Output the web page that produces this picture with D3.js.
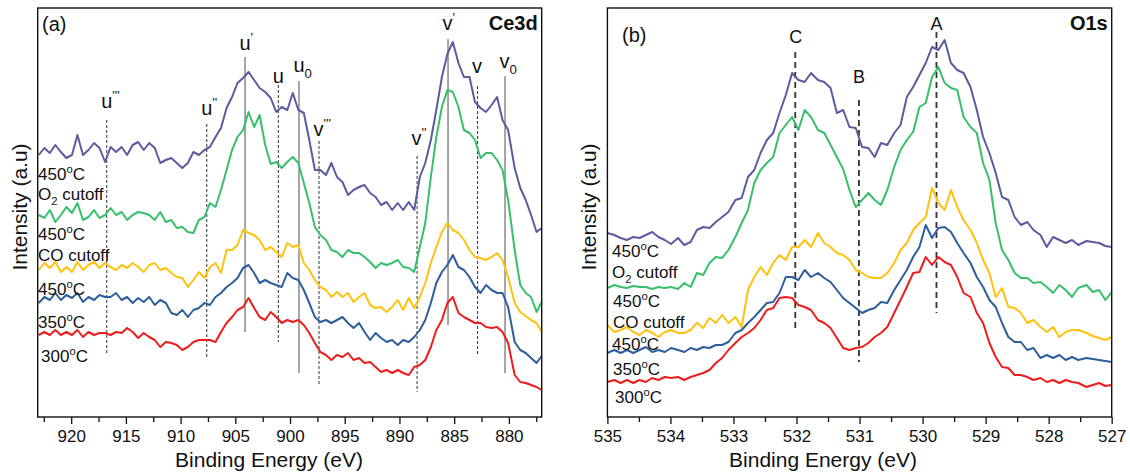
<!DOCTYPE html>
<html>
<head>
<meta charset="utf-8">
<script src="https://cdn.jsdelivr.net/npm/d3@7/dist/d3.min.js"></script>
<style>
  body { margin: 0; background: #fff; }
  text { font-family: "Liberation Sans", Arial, sans-serif; fill: #111; }
</style>
</head>
<body>
<svg id="chart"></svg>
<script>
// ---------------- data ----------------
// (a) Ce 3d region, binding energy in eV
const ceEnergy = [
  922.96,922.45,921.95,921.45,920.94,920.44,919.93,919.43,918.92,918.42,
  917.91,917.41,916.90,916.40,915.90,915.39,914.89,914.38,913.88,913.37,
  912.87,912.36,911.86,911.35,910.85,910.35,909.84,909.34,908.83,908.33,
  907.82,907.32,906.81,906.31,905.80,905.30,904.80,904.29,903.79,903.28,
  902.78,902.27,901.77,901.26,900.76,900.25,899.75,899.24,898.74,898.24,
  897.73,897.23,896.72,896.22,895.71,895.21,894.70,894.20,893.69,893.19,
  892.68,892.18,891.68,891.17,890.67,890.16,889.66,889.15,888.65,888.14,
  887.64,887.13,886.63,886.12,885.62,885.12,884.61,884.11,883.60,883.10,
  882.59,882.09,881.58,881.08,880.58,880.07,879.47,878.96,878.46,
  877.97,877.47,877.0
];
const ceO2Cutoff = [
  265,272,267,275,268,262,265,285,265,270,
  277,272,258,273,268,273,265,275,278,270,
  277,272,257,260,262,257,252,257,268,265,
  270,273,283,292,312,323,337,342,348,340,
  332,328,322,308,313,310,327,310,307,280,
  250,250,245,257,243,238,225,230,233,235,
  227,223,215,218,210,217,210,218,210,243,
  257,280,310,343,366,378,357,343,343,318,
  312,308,315,323,300,290,252,232,220,
  205,188,192
];
const ceCOCutoff = [
  205,202,210,198,205,213,207,217,200,203,
  210,202,205,212,205,208,200,205,208,207,
  205,200,208,198,200,192,193,188,187,200,
  203,217,213,230,250,270,283,290,308,293,
  305,275,256,258,252,258,263,257,237,217,
  193,185,180,170,168,163,170,167,167,163,
  158,152,157,155,157,160,153,152,148,173,
  197,243,283,313,330,328,313,290,287,280,
  262,267,267,260,250,220,170,135,127,
  123,108,118
];
const ce450 = [
  150,157,152,158,148,153,148,158,150,155,
  158,152,157,153,150,155,152,157,153,148,
  155,157,150,152,147,143,142,133,140,148,
  142,153,157,147,170,170,175,190,187,185,
  180,170,173,168,163,177,173,175,157,150,
  140,133,130,123,128,123,127,118,123,127,
  115,112,113,108,113,120,110,122,112,123,
  137,157,173,188,197,190,187,180,170,163,
  162,160,163,167,160,143,117,108,104,
  100,97,88
];
const ce350 = [
  117,123,120,127,120,125,122,127,118,123,
  120,125,123,123,127,120,123,117,122,118,
  123,115,120,117,107,105,110,103,110,112,
  117,115,123,127,133,137,142,152,155,147,
  137,140,137,135,133,147,142,140,130,117,
  103,98,100,97,100,103,97,92,97,88,
  80,87,82,78,80,75,80,78,83,90,
  100,117,137,148,155,165,153,150,143,133,
  127,135,130,127,127,113,78,70,67,
  62,57,64
];
const ce300 = [
  85,88,85,90,85,88,85,90,83,88,
  85,87,87,85,88,87,92,88,82,87,
  83,80,73,78,77,75,70,73,78,80,
  80,80,78,88,97,103,110,113,122,112,
  103,100,108,103,97,100,98,100,95,87,
  77,68,65,60,65,63,67,60,62,57,
  58,53,48,50,47,50,47,45,53,55,
  60,73,90,100,117,123,107,103,100,97,
  97,93,92,93,88,77,45,38,37,
  35,33,30
];

// (b) O 1s region
const oEnergy = [
  535.00,534.89,534.79,534.69,534.59,534.49,534.39,534.29,534.19,534.09,
  533.99,533.88,533.78,533.68,533.58,533.48,533.38,533.28,533.18,533.08,
  532.97,532.87,532.77,532.67,532.57,532.47,532.37,532.27,532.17,532.07,
  531.97,531.87,531.77,531.66,531.56,531.46,531.36,531.26,531.16,531.06,
  530.96,530.86,530.76,530.66,530.56,530.45,530.35,530.25,530.15,530.05,
  529.95,529.85,529.75,529.65,529.55,529.45,529.35,529.24,529.14,529.04,
  528.94,528.84,528.74,528.64,528.54,528.44,528.34,528.24,528.13,528.03,
  527.93,527.83,527.73,527.63,527.53,527.40,527.30,527.20,527.10,527.00
];
const oO2Cutoff = [
  187,185,182,180,183,182,185,188,183,180,
  176,182,175,178,190,193,192,198,203,208,
  220,222,243,250,267,280,287,307,325,347,
  340,338,347,340,338,332,307,310,293,292,
  273,272,263,277,275,287,295,323,333,345,
  357,373,370,380,357,350,347,333,310,283,
  267,247,223,220,203,195,198,190,185,173,
  183,180,177,180,175,179,178,177,174,
  173
];
const oCOCutoff = [
  132,135,133,132,134,133,133,131,133,132,
  133,131,137,133,147,145,157,163,162,170,
  183,197,210,237,250,257,263,287,295,303,
  290,310,303,290,287,275,263,251,230,213,
  220,227,220,215,230,253,270,280,288,313,
  317,343,353,337,332,330,303,293,287,257,
  240,197,170,160,147,142,142,137,138,133,
  127,135,130,123,132,135,128,130,120,
  128
];
const o450 = [
  95,88,90,93,88,85,90,87,83,88,
  90,87,87,90,97,92,102,97,105,97,
  103,93,130,143,153,145,157,165,160,173,
  173,180,173,187,177,173,167,165,160,150,
  147,143,142,142,147,157,170,177,190,197,
  203,232,217,210,230,213,200,190,177,160,
  147,123,132,113,112,107,97,100,93,88,
  93,83,88,90,90,87,84,82,80,
  83
];
const o350 = [
  67,70,67,70,67,70,73,68,70,68,
  72,70,68,72,70,73,72,75,75,78,
  87,90,97,103,110,117,118,127,143,143,
  140,150,143,147,142,138,130,122,117,112,
  107,110,112,118,117,130,140,150,163,173,
  195,182,192,193,188,177,167,157,143,133,
  120,113,97,83,78,78,70,72,62,65,
  62,65,60,63,60,62,61,60,59,
  58
];
const o300 = [
  38,40,37,40,37,40,38,42,40,43,
  42,43,40,43,45,47,50,57,62,70,
  77,83,87,92,100,110,112,122,123,122,
  115,113,110,100,97,92,82,72,70,72,
  73,77,83,87,93,107,120,133,147,148,
  163,155,163,158,155,143,127,123,107,97,
  77,63,53,52,45,45,43,40,42,38,
  40,37,40,38,37,33,35,37,34,
  35
];

// labels ({} = superscript, [] = subscript)
const seriesLabels = [
  ["450{o}C", "O[2] cutoff"],
  ["450{o}C", "CO cutoff"],
  ["450{o}C"],
  ["350{o}C"],
  ["300{o}C"]
];
const ceTicks = [920, 915, 910, 905, 900, 895, 890, 885, 880];
const ceMinorTicks = [922.5, 917.5, 912.5, 907.5, 902.5, 897.5, 892.5, 887.5, 882.5, 877.5];
const oTicks = [535, 534, 533, 532, 531, 530, 529, 528, 527];
const oMinorTicks = [534.5, 533.5, 532.5, 531.5, 530.5, 529.5, 528.5, 527.5];

const cePeakNames = ["u{'''}", "u{''}", "u{'}", "u", "u[0]", "v{'''}", "v{''}", "v{'}", "v", "v[0]"];
const cePeakEnergies = [916.75, 907.61, 904.11, 901.07, 899.18, 897.35, 888.39, 885.56, 882.86, 880.35];
const oPeakNames = ["C", "B", "A"];
const oPeakEnergies = [532.02, 531.01, 529.78];

// ---------------- layout / style ----------------
const colors = ['#5b5b9f', '#37c06b', '#ffc20e', '#2d5e9c', '#ee1c1c'];

// marker line extents and label heights, in intensity units
const ceMarkerLayout = [
  {top: 300, bottom: 65, label: 312, solid: false},
  {top: 296, bottom: 61, label: 305, solid: false},
  {top: 363, bottom: 88, label: 370, solid: true},
  {top: 335, bottom: 78, label: 337, solid: false},
  {top: 339, bottom: 47, label: 348, solid: true},
  {top: 279, bottom: 35, label: 284, solid: false},
  {top: 264, bottom: 28, label: 275, solid: false},
  {top: 381, bottom: 95, label: 390, solid: true},
  {top: 334, bottom: 65, label: 347, solid: false},
  {top: 344, bottom: 47, label: 352, solid: true}
];
const oMarkerLayout = [
  {top: 368, bottom: 88, label: 377},
  {top: 320, bottom: 58, label: 337},
  {top: 388, bottom: 107, label: 390}
];

function richText(sel, str, size) {
  // split into normal / {sup} / [sub] pieces
  const parts = str.match(/\{[^}]*\}|\[[^\]]*\]|[^{[]+/g);
  let shift = 0;
  parts.forEach(p => {
    let kind = 'n', t = p;
    if (p[0] === '{') { kind = 'sup'; t = p.slice(1, -1); }
    if (p[0] === '[') { kind = 'sub'; t = p.slice(1, -1); }
    const target = kind === 'sup' ? -size * 0.42 : kind === 'sub' ? size * 0.28 : 0;
    sel.append('tspan')
      .attr('dy', target - shift)
      .style('font-size', (kind === 'n' ? size : size * 0.66) + 'px')
      .text(t);
    shift = target;
  });
}

class SpectrumPanel {
  constructor(_config) {
    this.config = _config;
    this.initVis();
  }

  initVis() {
    let vis = this;
    const c = vis.config;

    vis.xScale = d3.scaleLinear().domain(c.domain).range([c.left, c.right]);
    vis.yScale = d3.scaleLinear().domain([3, 412]).range([417, 8]);

    vis.g = d3.select('#chart').append('g');

    // marker lines (behind curves)
    c.peakEnergies.forEach((e, i) => {
      const m = c.markers[i];
      const st = c.markerStyle(m);
      vis.g.append('line')
        .attr('x1', vis.xScale(e)).attr('x2', vis.xScale(e))
        .attr('y1', vis.yScale(m.top)).attr('y2', vis.yScale(m.bottom))
        .attr('stroke', st.stroke)
        .attr('stroke-width', st.width)
        .attr('stroke-dasharray', st.dash);
      const t = vis.g.append('text')
        .attr('x', vis.xScale(e) - c.peakSize * c.peakShift)
        .attr('y', vis.yScale(m.label));
      richText(t, c.peakNames[i], c.peakSize);
    });

    // spectra
    const line = d3.line()
      .x(d => vis.xScale(d[0]))
      .y(d => vis.yScale(d[1]));
    c.series.forEach((s, i) => {
      vis.g.append('path')
        .datum(c.energy.map((e, j) => [e, s[j]]))
        .attr('fill', 'none')
        .attr('stroke', colors[i])
        .attr('stroke-width', 2)
        .attr('stroke-linejoin', 'round')
        .attr('d', line);
    });

    // series labels
    seriesLabels.forEach((lines, i) => {
      lines.forEach((str, k) => {
        const t = vis.g.append('text')
          .attr('x', c.labelX[i])
          .attr('y', c.labelY[i][k]);
        richText(t, str, 17);
      });
    });

    // frame
    vis.g.append('rect')
      .attr('x', c.left).attr('y', 8)
      .attr('width', c.right - c.left).attr('height', 409)
      .attr('fill', 'none').attr('stroke', '#111').attr('stroke-width', 1.4);

    // axes
    vis.xAxis = d3.axisBottom(vis.xScale)
      .tickValues(c.ticks).tickSize(7).tickPadding(6)
      .tickFormat(d3.format('d'));
    vis.xMinor = d3.axisBottom(vis.xScale)
      .tickValues(c.minorTicks).tickSize(5).tickFormat('');

    vis.g.append('g').attr('transform', 'translate(0,417)')
      .call(vis.xAxis)
      .call(g => g.select('.domain').remove())
      .call(g => g.selectAll('line').attr('stroke', '#111').attr('stroke-width', 1.3))
      .call(g => g.selectAll('text').attr('fill', '#111')
        .style('font-size', '17px').style('font-family', '"Liberation Sans", Arial, sans-serif'));
    vis.g.append('g').attr('transform', 'translate(0,417)')
      .call(vis.xMinor)
      .call(g => g.select('.domain').remove())
      .call(g => g.selectAll('line').attr('stroke', '#111').attr('stroke-width', 1.3));

    // titles
    vis.g.append('text')
      .attr('x', c.titleX).attr('y', 467)
      .attr('text-anchor', 'middle')
      .style('font-size', '21px')
      .text('Binding Energy (eV)');
    vis.g.append('text')
      .attr('transform', `translate(${c.left - 11},207) rotate(-90)`)
      .attr('text-anchor', 'middle')
      .style('font-size', '21px')
      .text('Intensity (a.u)');
    vis.g.append('text')
      .attr('x', c.tagX).attr('y', c.tagY)
      .style('font-size', '20px')
      .text(c.tag);
    vis.g.append('text')
      .attr('x', c.right - 4).attr('y', 30)
      .attr('text-anchor', 'end')
      .style('font-size', '20px').style('font-weight', 'bold')
      .text(c.region);
  }
}

d3.select('#chart').attr('width', 1130).attr('height', 474);

new SpectrumPanel({
  left: 37.7, right: 541.7,
  domain: [923.06, 877.0],
  energy: ceEnergy,
  series: [ceO2Cutoff, ceCOCutoff, ce450, ce350, ce300],
  ticks: ceTicks, minorTicks: ceMinorTicks,
  peakNames: cePeakNames, peakEnergies: cePeakEnergies,
  markers: ceMarkerLayout, peakSize: 20, peakShift: 0.278,
  markerStyle: m => m.solid
    ? {stroke: '#808080', width: 1.4, dash: null}
    : {stroke: '#333', width: 1, dash: '3,2'},
  labelX: [38, 38, 38, 38, 41],
  labelY: [[180, 200], [240, 261], [295], [328], [362]],
  titleX: 269, tag: '(a)', tagX: 42, tagY: 31, region: 'Ce3d'
});

new SpectrumPanel({
  left: 607.4, right: 1111.7,
  domain: [535, 527],
  energy: oEnergy,
  series: [oO2Cutoff, oCOCutoff, o450, o350, o300],
  ticks: oTicks, minorTicks: oMinorTicks,
  peakNames: oPeakNames, peakEnergies: oPeakEnergies,
  markers: oMarkerLayout, peakSize: 18, peakShift: 0.33,
  markerStyle: () => ({stroke: '#333', width: 1.8, dash: '6,4'}),
  labelX: [612, 613, 612, 613, 615],
  labelY: [[257, 278], [307, 328], [350], [375], [403]],
  titleX: 823, tag: '(b)', tagX: 622, tagY: 42, region: 'O1s'
});
</script>
</body>
</html>
